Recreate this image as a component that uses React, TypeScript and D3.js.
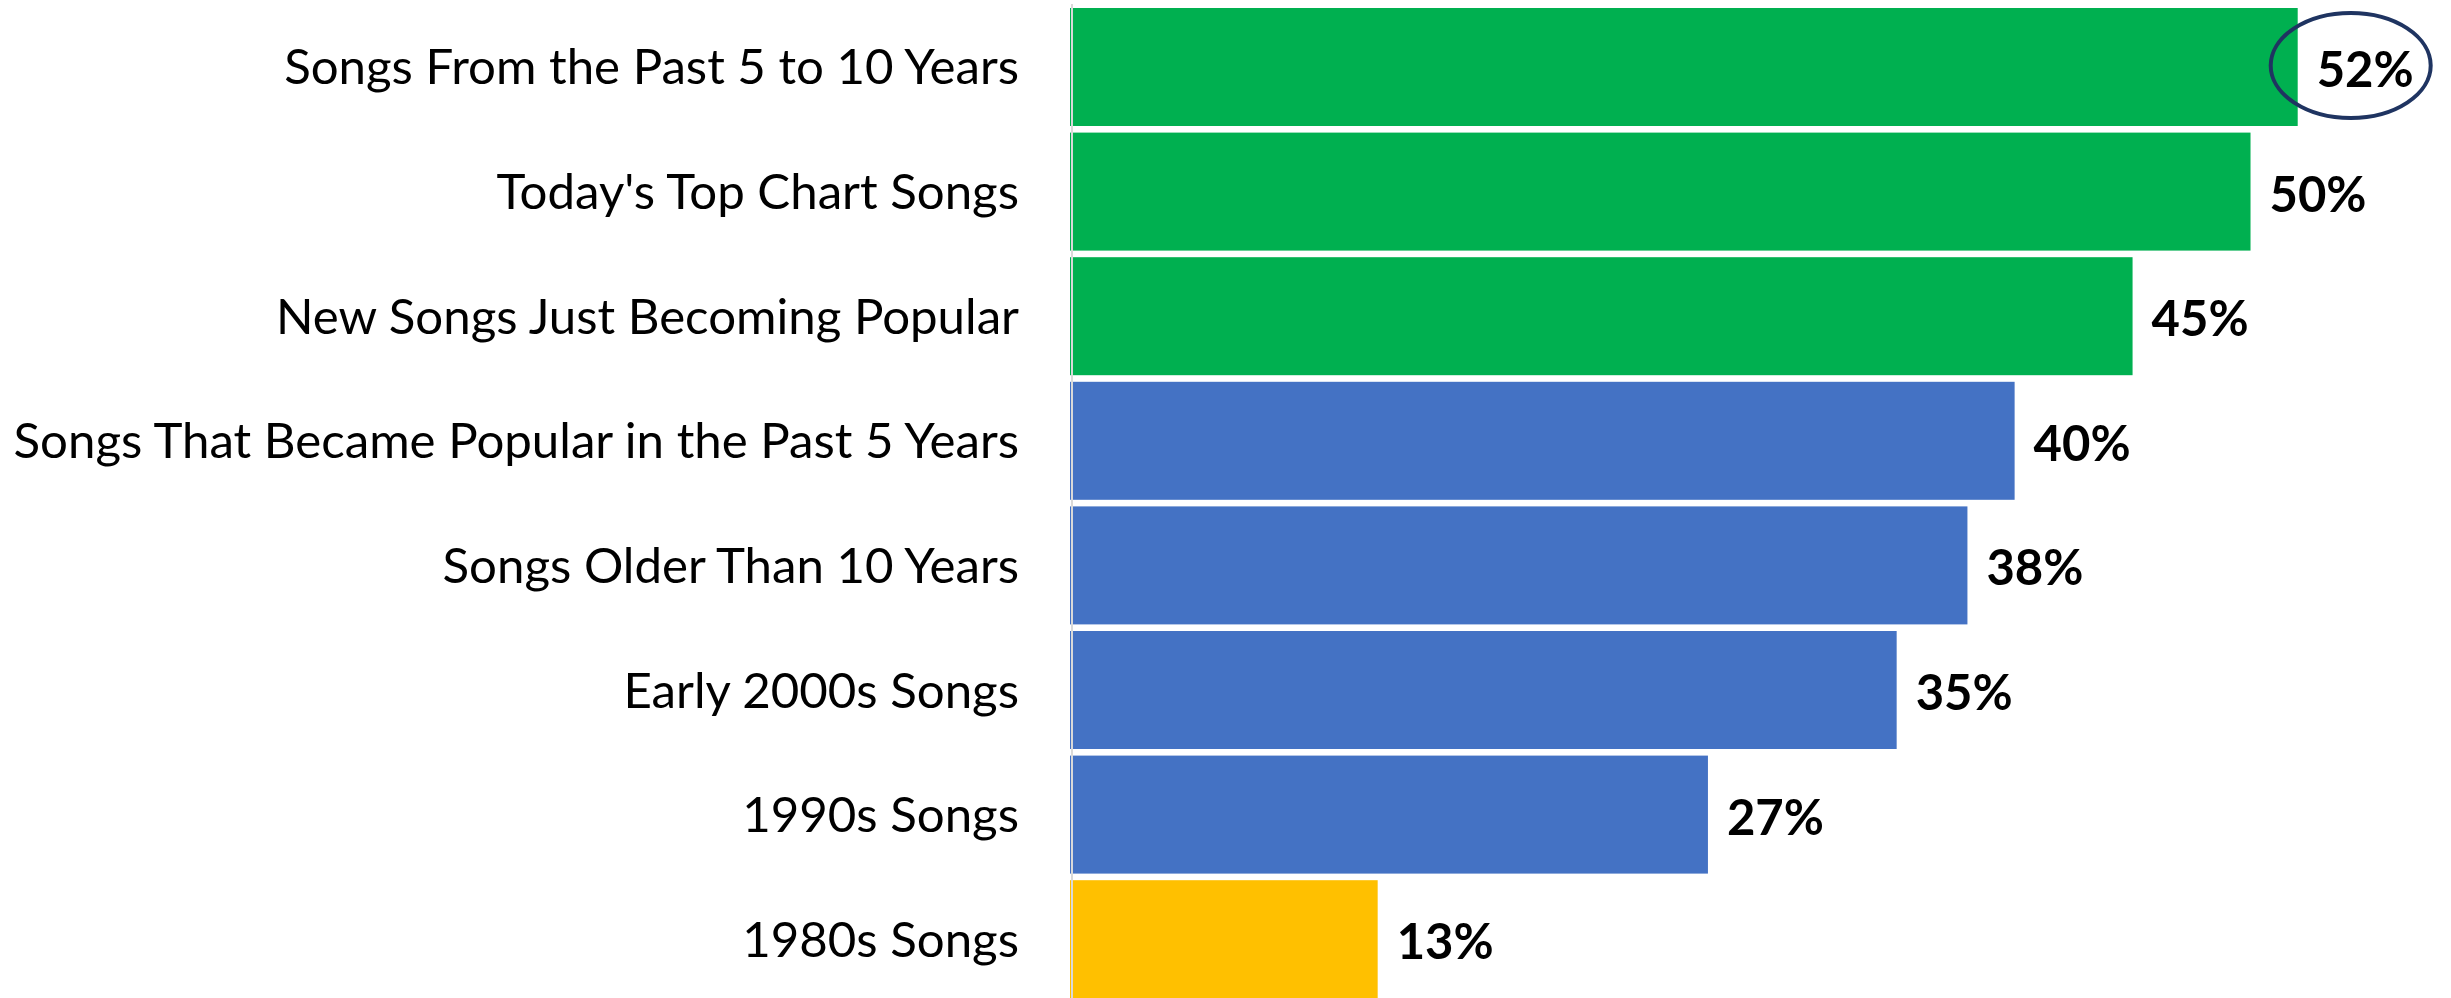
import React from "react";
import * as d3 from "d3";

const categories = [
  "Songs From the Past 5 to 10 Years",
  "Today's Top Chart Songs",
  "New Songs Just Becoming Popular",
  "Songs That Became Popular in the Past 5 Years",
  "Songs Older Than 10 Years",
  "Early 2000s Songs",
  "1990s Songs",
  "1980s Songs",
];
const values = [52, 50, 45, 40, 38, 35, 27, 13];
const groups = ["new", "new", "new", "mid", "mid", "mid", "mid", "old"];
const valueLabels = ["52%", "50%", "45%", "40%", "38%", "35%", "27%", "13%"];
const highlighted = [true, false, false, false, false, false, false, false];

const W = 2451;
const H = 998;
const colorMap: Record<string, string> = { new: "#00B050", mid: "#4472C4", old: "#FFC000" };
const FONT = "Lato, 'Open Sans', sans-serif";

export default function App() {
  const x = d3.scaleLinear().domain([0, 52]).range([1071, 2297.7]);
  const y = d3.scaleBand<string>().domain(categories).range([8, 998.2]).paddingInner(0.053).paddingOuter(0);
  const bw = y.bandwidth();
  return (
    <svg width={W} height={H} style={{ position: "absolute", left: 0, top: 0, background: "#fff" }}>
      {categories.map((c, i) => {
        const y0 = y(c)!;
        const cy = y0 + bw / 2;
        return (
          <g key={c}>
            <rect x={x(0) - 1} y={y0} width={x(values[i]) - x(0) + 1} height={bw} fill={colorMap[groups[i]]} />
            <text x={1019} y={cy - 2} textAnchor="end" dominantBaseline="central" fontFamily={FONT} fontSize={49.2} fill="#000">
              {c}
            </text>
            <text x={x(values[i]) + 19} y={cy + 1} dominantBaseline="central" fontFamily={FONT} fontWeight="bold" fontSize={49} fill="#000">
              {valueLabels[i]}
            </text>
            {highlighted[i] && (
              <ellipse cx={x(values[i]) + 53} cy={cy - 1.5} rx={80} ry={52.5} fill="none" stroke="#1F3461" strokeWidth={4} />
            )}
          </g>
        );
      })}
      <line x1={x(0) + 1} x2={x(0) + 1} y1={4} y2={H} stroke="#D9D9D9" strokeWidth={2} />
    </svg>
  );
}
